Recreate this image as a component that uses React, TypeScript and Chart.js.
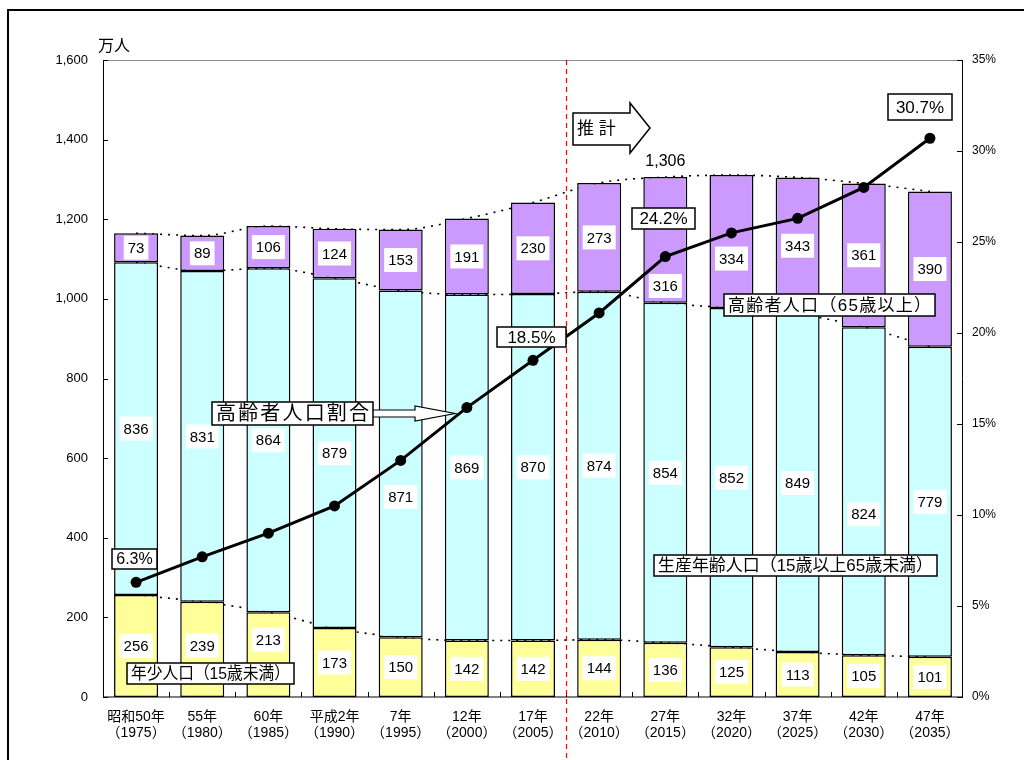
import { useEffect, useRef } from 'react';
import { Chart, registerables } from 'chart.js';

Chart.register(...registerables);

// ---- data ----
const eraLabels = ['昭和50年', '55年', '60年', '平成2年', '7年', '12年', '17年', '22年', '27年', '32年', '37年', '42年', '47年'];
const yearLabels = ['（1975）', '（1980）', '（1985）', '（1990）', '（1995）', '（2000）', '（2005）', '（2010）', '（2015）', '（2020）', '（2025）', '（2030）', '（2035）'];
const youngPop = [256, 239, 213, 173, 150, 142, 142, 144, 136, 125, 113, 105, 101];
const workingPop = [836, 831, 864, 879, 871, 869, 870, 874, 854, 852, 849, 824, 779];
const elderlyPop = [73, 89, 106, 124, 153, 191, 230, 273, 316, 334, 343, 361, 390];
const elderlyRatio = [6.3, 7.7, 9.0, 10.5, 13.0, 15.9, 18.5, 21.1, 24.2, 25.5, 26.3, 28.0, 30.7];
const popAxisMax = 1600;
const popAxisStep = 200;
const ratioAxisMax = 35;
const ratioAxisStep = 5;
const unitLabel = '万人';
const forecastLabel = '推 計';
const forecastStartIndex = 7;
const totalLabelIndex = 8;

const FONT = '"Liberation Sans", "Noto Sans CJK JP", sans-serif';

const categories = eraLabels.map((e, i) => [e, yearLabels[i]]);
const cumYoung = youngPop.slice();
const cumWorking = youngPop.map((v, i) => v + workingPop[i]);
const cumTotal = youngPop.map((v, i) => v + workingPop[i] + elderlyPop[i]);

const fmt = (v: number) => v.toLocaleString('en-US');

function boxText(ctx: CanvasRenderingContext2D, l: number, t: number, r: number, b: number, text: string, size: number, fit = false) {
  ctx.save();
  ctx.fillStyle = '#ffffff';
  ctx.fillRect(l, t, r - l, b - t);
  ctx.strokeStyle = '#000000';
  ctx.lineWidth = 1.5;
  ctx.strokeRect(l, t, r - l, b - t);
  ctx.fillStyle = '#000000';
  ctx.font = `${size}px ${FONT}`;
  ctx.textBaseline = 'middle';
  const cy = (t + b) / 2 + 1;
  if (!fit) {
    ctx.textAlign = 'center';
    ctx.fillText(text, (l + r) / 2, cy);
  } else {
    const target = r - l - 8;
    const chars = Array.from(text);
    const widths = chars.map((c) => ctx.measureText(c).width);
    const total = widths.reduce((a, c) => a + c, 0);
    ctx.textAlign = 'left';
    if (total >= target) {
      const k = target / total;
      let px = l + 4;
      chars.forEach((c, i) => {
        ctx.save();
        ctx.translate(px, cy);
        ctx.scale(k, 1);
        ctx.fillText(c, 0, 0);
        ctx.restore();
        px += widths[i] * k;
      });
    } else {
      const gap = (target - total) / (chars.length - 1);
      let px = l + 4;
      chars.forEach((c, i) => {
        ctx.fillText(c, px, cy);
        px += widths[i] + gap;
      });
    }
  }
  ctx.restore();
}

const labelShift: Record<string, number> = {
  '0-1': -4,
  '0-2': -15,
  '1-4': 33,
  '1-11': 23,
  '2-8': 46,
  '2-9': 17,
};

const decorPlugin = {
  id: 'decor',
  beforeDraw(chart: any) {
    const ctx = chart.ctx as CanvasRenderingContext2D;
    ctx.save();
    ctx.fillStyle = '#ffffff';
    ctx.fillRect(0, 0, chart.width, chart.height);
    ctx.restore();
  },
  afterDatasetDraw(chart: any, args: any) {
    if (args.index !== 0) return;
    const ctx = chart.ctx as CanvasRenderingContext2D;
    ctx.save();
    ctx.font = `15px ${FONT}`;
    ctx.textAlign = 'center';
    ctx.textBaseline = 'middle';
    const sets = [youngPop, workingPop, elderlyPop];
    for (let d = 0; d < 3; d++) {
      const meta = chart.getDatasetMeta(d);
      meta.data.forEach((el: any, i: number) => {
        const txt = String(sets[d][i]);
        const cy = (el.y + el.base) / 2 + (labelShift[`${d}-${i}`] || 0);
        const w = ctx.measureText(txt).width + 8;
        ctx.fillStyle = '#ffffff';
        ctx.fillRect(el.x - w / 2, cy - 12, w, 24);
        ctx.fillStyle = '#000000';
        ctx.fillText(txt, el.x, cy + 1);
      });
    }
    ctx.restore();
  },
  afterDraw(chart: any) {
    const ctx = chart.ctx as CanvasRenderingContext2D;
    const { left, right, top, bottom } = chart.chartArea;
    const x = chart.scales.x;
    const y = chart.scales.y;
    const y2 = chart.scales.y2;
    ctx.save();

    // outer frame
    ctx.strokeStyle = '#000';
    ctx.lineWidth = 2;
    ctx.beginPath();
    ctx.moveTo(8, 760);
    ctx.lineTo(8, 10);
    ctx.lineTo(1024, 10);
    ctx.stroke();

    // plot top border
    ctx.strokeStyle = '#8c8c8c';
    ctx.lineWidth = 1;
    ctx.beginPath();
    ctx.moveTo(left, top + 0.5);
    ctx.lineTo(right, top + 0.5);
    ctx.stroke();

    // axes
    ctx.strokeStyle = '#000';
    ctx.lineWidth = 1;
    ctx.beginPath();
    ctx.moveTo(left + 0.5, top);
    ctx.lineTo(left + 0.5, bottom);
    ctx.lineTo(right, bottom);
    ctx.moveTo(right - 0.5, top);
    ctx.lineTo(right - 0.5, bottom);
    ctx.stroke();

    // inward ticks
    ctx.beginPath();
    for (let v = 0; v <= popAxisMax; v += popAxisStep) {
      const py = Math.round(y.getPixelForValue(v)) + 0.5;
      ctx.moveTo(left, py);
      ctx.lineTo(left + 5, py);
    }
    for (let v = 0; v <= ratioAxisMax; v += ratioAxisStep) {
      const py = Math.round(y2.getPixelForValue(v)) + 0.5;
      ctx.moveTo(right, py);
      ctx.lineTo(right - 6, py);
    }
    for (let i = 0; i < eraLabels.length - 1; i++) {
      const px = Math.round((x.getPixelForValue(i) + x.getPixelForValue(i + 1)) / 2) + 0.5;
      ctx.moveTo(px, bottom);
      ctx.lineTo(px, bottom - 5);
    }
    ctx.stroke();

    // forecast divider
    const dx = Math.round((x.getPixelForValue(forecastStartIndex - 1) + x.getPixelForValue(forecastStartIndex)) / 2) + 0.5;
    ctx.strokeStyle = '#ff0000';
    ctx.lineWidth = 1.2;
    ctx.setLineDash([5, 4]);
    ctx.beginPath();
    ctx.moveTo(dx, top);
    ctx.lineTo(dx, 760);
    ctx.stroke();
    ctx.setLineDash([]);

    // unit label
    ctx.fillStyle = '#000';
    ctx.font = `16px ${FONT}`;
    ctx.textAlign = 'center';
    ctx.textBaseline = 'middle';
    ctx.fillText(unitLabel, 114, 47);

    // total label above forecast bar
    const elT = chart.getDatasetMeta(2).data[totalLabelIndex];
    ctx.font = `16px ${FONT}`;
    ctx.fillText(fmt(cumTotal[totalLabelIndex]), elT.x, elT.y - 15);

    // forecast arrow
    ctx.beginPath();
    ctx.moveTo(573, 113);
    ctx.lineTo(630, 113);
    ctx.lineTo(630, 103);
    ctx.lineTo(650, 128);
    ctx.lineTo(630, 153);
    ctx.lineTo(630, 145);
    ctx.lineTo(573, 145);
    ctx.closePath();
    ctx.fillStyle = '#fff';
    ctx.fill();
    ctx.strokeStyle = '#000';
    ctx.lineWidth = 1.5;
    ctx.stroke();
    ctx.fillStyle = '#000';
    ctx.font = `17px ${FONT}`;
    ctx.textAlign = 'left';
    ctx.fillText(forecastLabel, 577, 129);

    // ratio value boxes
    boxText(ctx, 112, 549, 157, 569, `${elderlyRatio[0].toFixed(1)}%`, 16);
    boxText(ctx, 497, 327, 566, 347, `${elderlyRatio[6].toFixed(1)}%`, 17);
    boxText(ctx, 632, 208, 695, 229, `${elderlyRatio[8].toFixed(1)}%`, 17);
    boxText(ctx, 888, 94, 952, 120, `${elderlyRatio[12].toFixed(1)}%`, 17);

    // arrow for ratio label
    ctx.beginPath();
    ctx.moveTo(372, 410);
    ctx.lineTo(415, 410);
    ctx.lineTo(415, 406);
    ctx.lineTo(455, 413.5);
    ctx.lineTo(415, 421);
    ctx.lineTo(415, 417);
    ctx.lineTo(372, 417);
    ctx.closePath();
    ctx.fillStyle = '#fff';
    ctx.fill();
    ctx.strokeStyle = '#000';
    ctx.lineWidth = 1.2;
    ctx.stroke();

    // series name boxes
    boxText(ctx, 212, 402, 373, 425, '高齢者人口割合', 20, true);
    boxText(ctx, 724, 294, 935, 316, '高齢者人口（65歳以上）', 17, true);
    boxText(ctx, 654, 555, 937, 576, '生産年齢人口（15歳以上65歳未満）', 17, true);
    boxText(ctx, 127, 663, 294, 684, '年少人口（15歳未満）', 17, true);

    ctx.restore();
  },
};

export default function App() {
  const ref = useRef<HTMLCanvasElement>(null);
  useEffect(() => {
    const canvas = ref.current;
    if (!canvas) return;
    const dotted = (data: number[], stack: string) => ({
      type: 'line' as const,
      data,
      stack,
      yAxisID: 'y',
      order: 2,
      borderColor: '#000',
      borderWidth: 1.6,
      borderDash: [2, 6],
      pointRadius: 0,
      fill: false,
      cubicInterpolationMode: 'monotone' as const,
    });
    const bar = (data: number[], color: string) => ({
      type: 'bar' as const,
      data,
      stack: 'pop',
      yAxisID: 'y',
      order: 1,
      backgroundColor: color,
      borderColor: '#000',
      borderWidth: 1.5,
      borderSkipped: false,
      barPercentage: 0.665,
      categoryPercentage: 1,
    });
    const chart = new Chart(canvas, {
      type: 'bar',
      data: {
        labels: categories as any,
        datasets: [
          bar(youngPop, '#ffff99'),
          bar(workingPop, '#ccffff'),
          bar(elderlyPop, '#cc99ff'),
          {
            type: 'line',
            data: elderlyRatio,
            yAxisID: 'y2',
            order: 0,
            borderColor: '#000',
            borderWidth: 3,
            pointRadius: 5.5,
            pointBackgroundColor: '#000',
            pointBorderColor: '#000',
            pointBorderWidth: 0,
            tension: 0,
            fill: false,
          } as any,
          dotted(cumYoung, 'l1'),
          dotted(cumWorking, 'l2'),
          dotted(cumTotal, 'l3'),
        ] as any,
      },
      options: {
        responsive: false,
        animation: false,
        events: [],
        layout: { padding: { top: 60, left: 0, right: 0, bottom: 0 } },
        plugins: { legend: { display: false }, tooltip: { enabled: false } },
        scales: {
          x: {
            stacked: true,
            grid: { display: false, drawTicks: false },
            border: { display: false },
            ticks: {
              color: '#000',
              font: { family: FONT, size: 14, lineHeight: 1.15 },
              padding: 12,
              maxRotation: 0,
              autoSkip: false,
            },
            afterFit: (s: any) => { s.height = 63; },
          },
          y: {
            stacked: true,
            min: 0,
            max: popAxisMax,
            grid: { display: false, drawTicks: false },
            border: { display: false },
            ticks: {
              stepSize: popAxisStep,
              color: '#000',
              font: { family: FONT, size: 13 },
              padding: 15,
              callback: (v: any) => fmt(Number(v)),
            },
            afterFit: (s: any) => { s.width = 103; },
          },
          y2: {
            position: 'right',
            min: 0,
            max: ratioAxisMax,
            grid: { display: false, drawTicks: false },
            border: { display: false },
            ticks: {
              stepSize: ratioAxisStep,
              color: '#000',
              font: { family: FONT, size: 12 },
              padding: 9,
              callback: (v: any) => `${v}%`,
            },
            afterFit: (s: any) => { s.width = 61; },
          },
        },
      } as any,
      plugins: [decorPlugin],
    });
    return () => chart.destroy();
  }, []);
  return (
    <div style={{ position: 'fixed', left: 0, top: 0, width: 1024, height: 760, background: '#fff' }}>
      <canvas ref={ref} width={1024} height={760} style={{ display: 'block', width: 1024, height: 760 }} />
    </div>
  );
}
